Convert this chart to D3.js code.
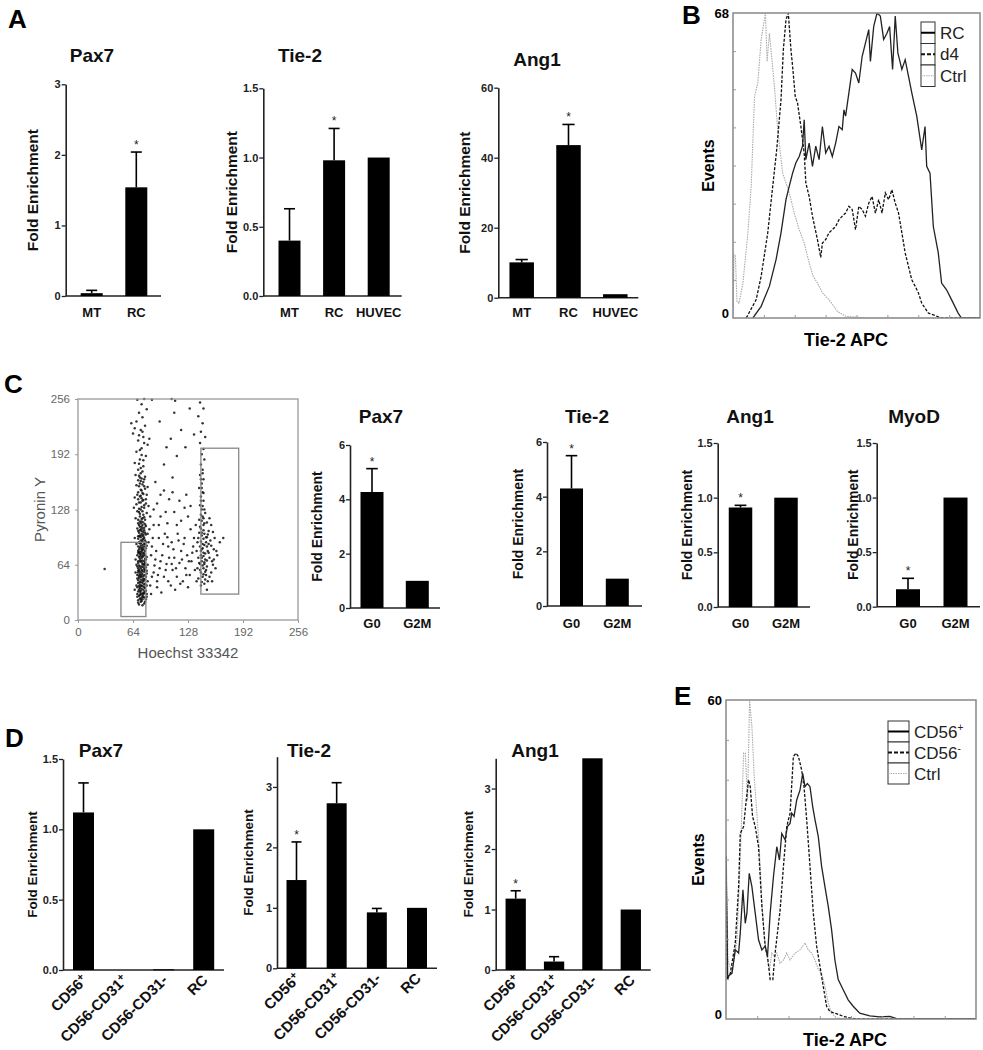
<!DOCTYPE html>
<html><head><meta charset="utf-8">
<script src="https://cdn.jsdelivr.net/npm/d3@7"></script>
<style>body{margin:0;background:#fff}svg{display:block}</style>
</head><body>
<svg id="fig" width="983" height="1050"></svg>
<script>
// ---------------- DATA ----------------
// Panel A
const aPax7Cats = ["MT", "RC"];
const aPax7Vals = [0.04, 1.54];
const aPax7Errs = [0.08, 2.04];
const aPax7Stars = [false, true];
const aPax7Ticks = [0, 1, 2, 3];

const aTie2Cats = ["MT", "RC", "HUVEC"];
const aTie2Vals = [0.40, 0.98, 1.0];
const aTie2Errs = [0.63, 1.21, null];
const aTie2Stars = [false, true, false];
const aTie2Ticks = [0, 0.5, 1.0, 1.5];

const aAng1Cats = ["MT", "RC", "HUVEC"];
const aAng1Vals = [10.1, 43.6, 1.0];
const aAng1Errs = [10.9, 49.5, null];
const aAng1Stars = [false, true, false];
const aAng1Ticks = [0, 20, 40, 60];

// Panel B histogram (channel, events)
const bRC = [[60,0],[85,2.6],[110,7.1],[130,13.0],[145,19.0],[160,26.4],[170,29.4],[180,32.3],[190,34.6],[200,36.0],[210,38.3],[215,44.2],[220,35.3],[230,39.0],[240,33.8],[250,38.3],[260,35.3],[270,42.7],[280,36.8],[290,38.3],[300,36.0],[310,39.0],[320,42.7],[330,42.0],[335,46.4],[340,45.0],[350,50.2],[360,55.4],[370,54.6],[380,52.4],[390,58.3],[400,61.3],[410,64.3],[415,57.2],[425,65.0],[435,68],[445,67.3],[455,62.1],[465,63.5],[473,65.0],[482,55.4],[490,67.3],[498,59.1],[510,55.4],[520,57.6],[530,53.9],[540,50.2],[555,45.0],[570,37.5],[580,42.7],[585,33.8],[595,32.3],[605,20.4],[620,14.5],[630,7.8],[645,6.3],[660,4.1],[680,1.1],[690,0],[746,0]];
const bD4 = [[40,0],[70,4.1],[85,9.3],[105,19.0],[120,29.4],[132,37.5],[145,48.7],[152,59.8],[160,66.5],[167,68],[175,59.8],[180,56.1],[188,49.4],[195,47.9],[205,42.7],[215,36.8],[220,30.1],[230,27.1],[240,22.7],[255,17.5],[265,13.5],[270,16.7],[280,17.5],[290,19.0],[300,19.7],[310,20.4],[320,21.9],[330,22.7],[340,23.4],[350,24.9],[360,24.2],[370,19.7],[380,24.9],[390,24.2],[400,22.7],[410,25.6],[420,27.1],[430,23.4],[440,26.4],[450,23.4],[460,27.9],[470,26.4],[480,28.6],[490,25.6],[500,23.4],[510,19.0],[520,14.5],[530,11.5],[540,8.5],[550,7.1],[560,5.6],[570,3.3],[590,1.1],[630,0],[746,0]];
const bCtrl = [[0,0],[3,14.1],[7,14.1],[12,3.7],[18,3.3],[30,7.8],[45,19.0],[55,29.4],[65,49.4],[75,52.4],[85,62.1],[98,68],[103,57.2],[110,63.5],[125,51.7],[135,42.0],[150,32.3],[170,27.9],[185,23.4],[200,19.7],[215,16.7],[230,12.3],[242,9.3],[255,7.8],[270,5.6],[290,4.1],[315,1.5],[340,0.4],[400,0],[746,0]];
const bMaxEvents = 68;
const bSeries = ["RC", "d4", "Ctrl"];

// Panel C scatter (Hoechst 33342, Pyronin Y)
const cScatter = [[70,20],[74,22],[77,19],[72,25],[76,27],[79,24],[69,30],[73,31],[75,28],[78,33],[71,35],[74,36],[77,38],[80,30],[68,40],[72,41],[75,43],[78,42],[70,46],[73,47],[76,48],[79,50],[69,52],[72,53],[74,55],[77,56],[80,54],[71,58],[73,60],[76,61],[78,63],[68,64],[70,66],[74,67],[77,68],[79,70],[72,71],[75,73],[69,75],[73,77],[76,78],[78,80],[71,82],[74,83],[77,85],[80,86],[68,88],[72,89],[75,91],[78,92],[70,94],[73,96],[76,97],[79,99],[71,101],[74,103],[77,104],[69,106],[72,108],[75,110],[73,21],[75,24],[71,28],[76,32],[72,37],[75,39],[73,44],[76,45],[74,50],[71,49],[75,57],[72,62],[75,65],[73,69],[76,74],[74,79],[72,84],[75,87],[73,92],[76,94],[74,98],[73,105],[70,60],[78,58],[70,80],[78,75],[67,70],[81,64],[67,55],[81,45],[66,35],[82,90],[81,100],[66,95],[74,26],[72,33],[77,47],[73,52],[70,57],[77,65],[74,72],[71,78],[78,88],[74,90],[71,97],[76,102],[74,108],[72,114],[76,30],[73,39],[75,53],[72,76],[75,81],
[71,18],[75,17],[78,21],[70,23],[73,24],[77,26],[80,27],[69,27],[72,29],[74,30],[77,31],[79,34],[70,33],[73,34],[76,35],[78,37],[69,38],[71,39],[74,40],[77,41],[80,40],[70,43],[72,44],[75,46],[78,47],[69,48],[71,51],[73,50],[76,51],[78,52],[80,57],[70,55],[72,56],[74,58],[77,59],[79,61],[69,62],[71,63],[74,62],[76,64],[78,66],[70,68],[72,68],[75,69],[78,71],[80,73],[71,73],[73,74],[75,76],[77,77],[70,78],[72,79],[74,81],[76,82],[79,83],[70,85],[73,86],[75,84],[77,88],[79,90],[71,90],[73,89],[75,93],[77,95],[70,97],[72,98],[74,100],[76,99],[78,101],[70,103],[72,104],[75,106],[77,107],[79,109],[71,110],[73,112],[76,113],[78,111],[70,116],[74,117],[77,119],[72,123],[75,126],[71,129],[74,131],[77,133],[73,136],[76,139],[70,140],[72,143],[75,147],[73,151],[71,155],[75,157],[73,161],[77,163],[71,167],[75,172],[73,176],[71,181],[76,185],[74,191],[72,197],[77,205],[71,214],[75,218],
[70,112],[74,114],[78,116],[67,118],[72,120],[76,122],[80,124],[69,126],[73,128],[77,130],[82,132],[68,134],[71,136],[75,138],[79,140],[66,142],[73,144],[76,146],[70,148],[74,150],[78,152],[81,154],[68,156],[72,158],[76,160],[70,162],[74,164],[78,166],[67,168],[73,170],[75,118],[71,125],[79,135],[74,141],[69,145],[77,155],[72,165],[80,145],[65,130],[84,120],
[70,174],[76,178],[66,182],[72,186],[79,190],[68,195],[74,199],[81,203],[70,208],[76,212],[64,216],[73,220],[78,225],[68,230],[75,235],[71,240],[80,244],[66,222],[74,250],[69,255],[77,256],[86,255],[62,228],[83,210],
[143,40],[147,42],[151,45],[140,48],[145,50],[149,52],[155,55],[142,58],[146,60],[150,62],[157,64],[141,66],[144,68],[148,70],[153,72],[143,75],[146,78],[151,80],[158,82],[142,85],[145,88],[149,90],[154,92],[140,95],[144,98],[147,100],[152,103],[143,106],[146,110],[150,113],[141,116],[145,120],[148,124],[144,128],[142,133],[146,138],[143,143],[145,148],[141,153],[144,158],[146,163],[142,168],[145,174],[143,180],[147,186],[144,192],[146,198],[142,205],[148,212],[143,218],[145,228],[140,236],[146,245],[142,252],[160,60],[162,75],[156,45],[139,60],[138,80],[159,95],[155,110],[150,35],[165,90],[148,56],[152,88],[147,65],[144,82],[150,96],
[144,44],[148,47],[146,53],[143,55],[149,58],[145,63],[142,65],[147,67],[150,69],[144,72],[146,74],[148,77],[143,80],[145,83],[150,85],[147,87],[143,91],[146,94],[149,96],[144,101],[146,104],[142,108],[147,112],[144,115],[146,118],[143,122],[147,128],[145,132],[143,138],[146,147],[144,153],[143,163],[145,170],[153,50],[156,68],[152,78],[155,86],[151,99],[157,102],[153,118],[140,72],[139,90],[141,101],[161,80],[158,70],
[84,40],[88,55],[90,70],[86,85],[92,45],[95,60],[98,75],[94,95],[100,50],[103,65],[105,85],[101,100],[108,40],[110,58],[112,72],[109,90],[115,50],[118,66],[120,80],[116,100],[122,45],[125,60],[127,75],[124,95],[130,52],[132,68],[134,85],[131,105],[136,58],[88,110],[96,120],[104,112],[112,125],[120,115],[128,120],[92,135],[106,140],[118,138],[126,145],[100,150],[85,30],[97,32],[113,35],[128,38],[90,160],[110,165],
[86,50],[89,63],[91,80],[87,95],[93,52],[96,68],[99,88],[102,58],[106,72],[104,96],[109,65],[111,82],[114,60],[117,92],[121,70],[123,88],[126,52],[129,68],[133,78],[135,95],[85,75],[94,110],[102,125],[115,110],[124,130],[110,148],[96,145],[131,132],[137,110],[83,105],[88,128],[138,45],[119,42],[105,45],[92,38],
[100,180],[115,190],[125,200],[108,210],[120,220],[135,215],[95,230],[112,240],[130,245],[103,200],[109,256],[113,254],[31,59],[169,95]];
const cAxisTicks = [0, 64, 128, 192, 256];
const cGateG0 = [50, 79, 4, 90];     // x0, x1, y0, y1
const cGateG2M = [143, 187, 30, 199];

// Panel C bars
const cCats = ["G0", "G2M"];
const cPax7Vals = [4.27, 1.0], cPax7Errs = [5.13, null];
const cTie2Vals = [4.30, 1.0], cTie2Errs = [5.50, null];
const cAng1Vals = [0.91, 1.0], cAng1Errs = [0.93, null];
const cMyoDVals = [0.16, 1.0], cMyoDErrs = [0.26, null];
const cStars = [true, false];
const cTicks6 = [0, 2, 4, 6];
const cTicks15 = [0, 0.5, 1.0, 1.5];

// Panel D bars
const dCats = ["CD56+", "CD56-CD31+", "CD56-CD31-", "RC"];
const dPax7Vals = [1.12, 0, 0.005, 1.0], dPax7Errs = [1.33, null, null, null], dPax7Stars = [false, false, false, false];
const dTie2Vals = [1.46, 2.73, 0.925, 1.0], dTie2Errs = [2.09, 3.07, 0.99, null], dTie2Stars = [true, false, false, false];
const dAng1Vals = [1.18, 0.14, 3.5, 1.0], dAng1Errs = [1.31, 0.22, null, null], dAng1Stars = [true, false, false, false];
const dPax7Ticks = [0, 0.5, 1.0, 1.5];
const dTicks3 = [0, 1, 2, 3];

// Panel E histogram
const eCD56p = [[0,30.6],[5,8.0],[18,8.6],[28,13.0],[38,12.4],[43,16.2],[51,24.3],[58,18.0],[63,19.9],[70,27.4],[78,24.9],[88,19.9],[98,14.9],[108,13.0],[118,13.7],[125,11.8],[133,19.9],[143,26.8],[153,32.4],[161,29.9],[168,34.9],[178,33.7],[185,36.2],[193,36.8],[198,38.7],[205,38.1],[213,41.2],[223,43.1],[231,46.2],[238,43.7],[245,44.3],[253,43.7],[261,40.0],[268,37.5],[278,34.3],[288,28.7],[298,24.9],[308,21.2],[318,16.8],[328,11.1],[338,7.4],[353,5.5],[368,3.6],[383,2.4],[403,1.1],[433,0.6],[463,0.4],[493,0.5],[518,0],[753,0]];
const eCD56m = [[0,28],[4,7.4],[13,8.6],[28,14.3],[38,24.9],[43,34.9],[53,36.2],[61,41.2],[68,45.0],[73,43.7],[80,38.1],[88,36.2],[98,32.4],[108,21.2],[118,13.7],[125,11.8],[133,7.4],[141,7.4],[148,12.4],[155,16.2],[163,20.5],[173,28.7],[183,36.2],[193,38.7],[203,49.4],[211,50.0],[218,49.4],[228,46.8],[235,43.7],[243,37.5],[253,28.7],[263,19.9],[273,13.7],[283,9.9],[293,6.1],[303,2.4],[313,1.4],[333,1.0],[353,0.5],[373,0.2],[393,0],[753,0]];
const eCtrl = [[0,34.9],[6,11.1],[18,8.6],[33,14.9],[43,29.9],[53,50.0],[58,50.0],[65,41.1],[71,60],[78,55.0],[85,45.6],[93,38.7],[101,31.2],[108,22.4],[115,15.5],[123,11.8],[131,9.3],[138,12.4],[145,11.8],[153,12.4],[163,10.5],[173,11.1],[183,12.4],[193,11.1],[208,12.4],[223,13.0],[238,14.3],[248,13.0],[258,12.4],[268,11.1],[278,9.3],[288,8.6],[298,6.1],[308,3.0],[318,1.1],[333,0.2],[353,0],[753,0]];
const eMaxEvents = 60;
const eSeries = ["CD56+", "CD56-", "Ctrl"];

// ---------------- DRAWING ----------------
const FONT = '"Liberation Sans", Arial, Helvetica, sans-serif';
const svg = d3.select("#fig").attr("font-family", FONT);

function addLabel(sel, label) {
  const m = label.match(/^(.*?)(\+)$/);
  if (m) {
    sel.append("tspan").text(m[1]);
    sel.append("tspan").attr("dy", -5).attr("font-size", "0.7em").text("+");
  } else sel.text(label);
}

function drawBar(c) {
  const g = svg.append("g");
  const y = d3.scaleLinear().domain([0, c.max]).range([c.y0, c.yTop]);
  const x = d3.scalePoint().domain(c.cats).range([c.c0, c.c1]);
  const ax = g.append("g").attr("transform", `translate(${c.ax},0)`)
    .call(d3.axisLeft(y).tickValues(c.ticks).tickFormat(c.fmt).tickSize(4).tickSizeOuter(0));
  ax.attr("font-family", FONT).attr("font-size", 11).attr("font-weight", "bold");
  ax.select(".domain").attr("stroke", "#222").attr("stroke-width", 1.6);
  ax.selectAll(".tick line").attr("stroke", "#222").attr("stroke-width", 1.3);
  ax.selectAll(".tick text").attr("fill", "#222").attr("x", -5);
  g.append("line").attr("x1", c.ax).attr("x2", c.xEnd).attr("y1", c.y0).attr("y2", c.y0)
    .attr("stroke", "#222").attr("stroke-width", 1.6);
  const data = c.cats.map((k, i) => ({k, v: c.vals[i], e: c.errs[i], s: c.stars[i]}));
  g.selectAll("rect.bar").data(data.filter(d => d.v > 0)).join("rect").attr("class", "bar")
    .attr("x", d => x(d.k) - c.bw / 2).attr("y", d => y(Math.min(d.v, c.max)))
    .attr("width", c.bw).attr("height", d => Math.max(1, c.y0 - y(Math.min(d.v, c.max))))
    .attr("fill", "#000");
  const ed = data.filter(d => d.e != null);
  g.selectAll("line.err").data(ed).join("line").attr("class", "err")
    .attr("x1", d => x(d.k)).attr("x2", d => x(d.k)).attr("y1", d => y(d.v)).attr("y2", d => y(d.e))
    .attr("stroke", "#000").attr("stroke-width", 1.6);
  g.selectAll("line.cap").data(ed).join("line").attr("class", "cap")
    .attr("x1", d => x(d.k) - c.bw / 4).attr("x2", d => x(d.k) + c.bw / 4)
    .attr("y1", d => y(d.e)).attr("y2", d => y(d.e))
    .attr("stroke", "#000").attr("stroke-width", 1.6);
  g.selectAll("text.star").data(data.filter(d => d.s)).join("text").attr("class", "star")
    .attr("x", d => x(d.k)).attr("y", d => y(d.e != null ? d.e : d.v) - 3)
    .attr("text-anchor", "middle").attr("font-size", 12).attr("fill", "#222").text("*");
  g.append("text").attr("x", c.tx).attr("y", c.ty).attr("text-anchor", "middle")
    .attr("font-size", 19).attr("font-weight", "bold").attr("fill", "#111").text(c.title);
  g.append("text").attr("transform", `translate(${c.lx},${(c.y0 + c.yTop) / 2}) rotate(-90)`)
    .attr("text-anchor", "middle").attr("dy", "0.35em").attr("font-size", c.lfs)
    .attr("font-weight", "bold").attr("fill", "#111").text("Fold Enrichment");
  if (c.rot) {
    c.cats.forEach(k => {
      const t = g.append("text").attr("transform", `translate(${x(k) + 5},${c.y0 + 11}) rotate(-45)`)
        .attr("text-anchor", "end").attr("font-size", 15).attr("font-weight", "bold").attr("fill", "#111");
      addLabel(t, k);
    });
  } else {
    g.selectAll("text.xl").data(c.cats).join("text").attr("class", "xl")
      .attr("x", d => x(d)).attr("y", c.xly).attr("text-anchor", "middle")
      .attr("font-size", 13).attr("font-weight", "bold").attr("fill", "#111").text(d => d);
  }
}

const f0 = d3.format("d"), f1 = d3.format(".1f");
// Panel A
drawBar({cats: aPax7Cats, vals: aPax7Vals, errs: aPax7Errs, stars: aPax7Stars, ticks: aPax7Ticks, fmt: f0, max: 3,
  ax: 65.7, xEnd: 161, y0: 296, yTop: 84.3, c0: 91.7, c1: 136.3, bw: 22, title: "Pax7", tx: 92, ty: 62, lx: 33, lfs: 15.5, xly: 317});
drawBar({cats: aTie2Cats, vals: aTie2Vals, errs: aTie2Errs, stars: aTie2Stars, ticks: aTie2Ticks, fmt: f1, max: 1.5,
  ax: 263.3, xEnd: 401.7, y0: 296, yTop: 88.3, c0: 289.5, c1: 378.7, bw: 22, title: "Tie-2", tx: 300, ty: 62, lx: 231.7, lfs: 15.5, xly: 317});
drawBar({cats: aAng1Cats, vals: aAng1Vals, errs: aAng1Errs, stars: aAng1Stars, ticks: aAng1Ticks, fmt: f0, max: 60,
  ax: 498.3, xEnd: 638.3, y0: 297.7, yTop: 87.7, c0: 521.7, c1: 615.3, bw: 24.5, title: "Ang1", tx: 537, ty: 66, lx: 465, lfs: 15.5, xly: 317});
// Panel C bars
drawBar({cats: cCats, vals: cPax7Vals, errs: cPax7Errs, stars: cStars, ticks: cTicks6, fmt: f0, max: 6,
  ax: 350, xEnd: 440, y0: 608, yTop: 445, c0: 372, c1: 417.3, bw: 23, title: "Pax7", tx: 381, ty: 423, lx: 317, lfs: 14, xly: 628});
drawBar({cats: cCats, vals: cTie2Vals, errs: cTie2Errs, stars: cStars, ticks: cTicks6, fmt: f0, max: 6,
  ax: 547, xEnd: 642, y0: 606, yTop: 442, c0: 571.5, c1: 617.3, bw: 23, title: "Tie-2", tx: 587, ty: 423, lx: 518, lfs: 14, xly: 628});
drawBar({cats: cCats, vals: cAng1Vals, errs: cAng1Errs, stars: cStars, ticks: cTicks15, fmt: f1, max: 1.5,
  ax: 717.7, xEnd: 810, y0: 607, yTop: 443, c0: 740.5, c1: 786, bw: 23.5, title: "Ang1", tx: 750, ty: 423, lx: 687, lfs: 14, xly: 628});
drawBar({cats: cCats, vals: cMyoDVals, errs: cMyoDErrs, stars: cStars, ticks: cTicks15, fmt: f1, max: 1.5,
  ax: 876.7, xEnd: 980, y0: 606.7, yTop: 443, c0: 908, c1: 955.5, bw: 24, title: "MyoD", tx: 914, ty: 423, lx: 853, lfs: 14, xly: 628});
// Panel D bars
drawBar({cats: dCats, vals: dPax7Vals, errs: dPax7Errs, stars: dPax7Stars, ticks: dPax7Ticks, fmt: f1, max: 1.5,
  ax: 63, xEnd: 224, y0: 970, yTop: 759, c0: 83.5, c1: 203.7, bw: 21, title: "Pax7", tx: 101, ty: 757, lx: 32, lfs: 13.5, rot: true});
drawBar({cats: dCats, vals: dTie2Vals, errs: dTie2Errs, stars: dTie2Stars, ticks: dTicks3, fmt: f0, max: 3.5,
  ax: 277, xEnd: 437, y0: 968.3, yTop: 756.7, c0: 296.5, c1: 417, bw: 20, title: "Tie-2", tx: 309, ty: 757, lx: 248, lfs: 13.5, rot: true});
drawBar({cats: dCats, vals: dAng1Vals, errs: dAng1Errs, stars: dAng1Stars, ticks: dTicks3, fmt: f0, max: 3.5,
  ax: 495.7, xEnd: 650.7, y0: 970, yTop: 758.3, c0: 515.7, c1: 630.8, bw: 20.3, title: "Ang1", tx: 535, ty: 757, lx: 468, lfs: 13.5, rot: true});

// Panel C scatter
(function () {
  const L = 78, R = 298, T = 399, B = 620;
  const x = d3.scaleLinear().domain([0, 256]).range([L, R]);
  const y = d3.scaleLinear().domain([0, 256]).range([B, T]);
  const g = svg.append("g");
  g.selectAll("circle").data(cScatter).join("circle")
    .attr("cx", d => x(d[0])).attr("cy", d => y(d[1])).attr("r", 1.25).attr("fill", "#111").attr("opacity", 0.85);
  g.append("rect").attr("x", L).attr("y", T).attr("width", R - L).attr("height", B - T)
    .attr("fill", "none").attr("stroke", "#999").attr("stroke-width", 1.3);
  [cGateG0, cGateG2M].forEach(q => {
    g.append("rect").attr("x", x(q[0])).attr("y", y(q[3])).attr("width", x(q[1]) - x(q[0])).attr("height", y(q[2]) - y(q[3]))
      .attr("fill", "none").attr("stroke", "#888").attr("stroke-width", 1.3);
  });
  const ax = g.append("g").attr("transform", `translate(0,${B})`)
    .call(d3.axisBottom(x).tickValues(cAxisTicks).tickSize(3).tickSizeOuter(0));
  const ay = g.append("g").attr("transform", `translate(${L},0)`)
    .call(d3.axisLeft(y).tickValues(cAxisTicks).tickSize(3).tickSizeOuter(0));
  [ax, ay].forEach(a => {
    a.attr("font-family", FONT).attr("font-size", 11.5);
    a.select(".domain").remove();
    a.selectAll(".tick line").attr("stroke", "#999");
    a.selectAll(".tick text").attr("fill", "#666");
  });
  ax.selectAll(".tick text").attr("y", 8);
  ay.selectAll(".tick text").attr("x", -8);
  g.append("text").attr("x", (L + R) / 2).attr("y", 658).attr("text-anchor", "middle")
    .attr("font-size", 15).attr("fill", "#555").text("Hoechst 33342");
  g.append("text").attr("transform", `translate(40,${(T + B) / 2}) rotate(-90)`).attr("dy", "0.35em")
    .attr("text-anchor", "middle").attr("font-size", 15).attr("fill", "#555").text("Pyronin Y");
})();

// Histograms
function drawHist(h) {
  const g = svg.append("g");
  const x = d3.scaleLinear().domain([0, h.xMax]).range([h.L, h.R]);
  const y = d3.scaleLinear().domain([0, h.yMax]).range([h.B, h.T]);
  const id = "clip" + h.L;
  g.append("clipPath").attr("id", id).append("rect").attr("x", h.L).attr("y", h.T).attr("width", h.R - h.L).attr("height", h.B - h.T);
  const line = d3.line().x(d => x(d[0])).y(d => y(d[1]));
  const styles = [
    {stroke: "#aaa", w: 1.1, dash: "1.5,1"},
    {stroke: "#111", w: 1.3, dash: "3,1.6"},
    {stroke: "#222", w: 1.3, dash: null}
  ];
  [h.s3, h.s2, h.s1].forEach((s, i) => {
    g.append("path").datum(s).attr("d", line).attr("fill", "none").attr("clip-path", `url(#${id})`)
      .attr("stroke", styles[i].stroke).attr("stroke-width", styles[i].w)
      .attr("stroke-dasharray", styles[i].dash);
  });
  g.append("rect").attr("x", h.L).attr("y", h.T).attr("width", h.R - h.L).attr("height", h.B - h.T)
    .attr("fill", "none").attr("stroke", "#888").attr("stroke-width", 1.5);
  const xt = d3.range(1, 8).map(i => i * h.xMax / 8);
  const yt = d3.range(1, 8).map(i => i * h.yMax / 8);
  g.append("g").attr("transform", `translate(0,${h.B})`).call(d3.axisTop(x).tickValues(xt).tickSize(3).tickFormat(""))
    .call(a => { a.select(".domain").remove(); a.selectAll("line").attr("stroke", "#999"); });
  g.append("g").attr("transform", `translate(${h.L},0)`).call(d3.axisRight(y).tickValues(yt).tickSize(3).tickFormat(""))
    .call(a => { a.select(".domain").remove(); a.selectAll("line").attr("stroke", "#999"); });
  g.append("text").attr("x", h.L - 4).attr("y", h.T + 5).attr("text-anchor", "end").attr("font-size", 13)
    .attr("font-weight", "bold").text(h.yMax);
  g.append("text").attr("x", h.L - 4).attr("y", h.B).attr("text-anchor", "end").attr("font-size", 13)
    .attr("font-weight", "bold").text(0);
  g.append("text").attr("transform", `translate(${h.evX},${(h.T + h.B) / 2}) rotate(-90)`).attr("dy", "0.35em")
    .attr("text-anchor", "middle").attr("font-size", 16).attr("font-weight", "bold").text("Events");
  g.append("text").attr("x", h.apcX).attr("y", h.apcY).attr("text-anchor", "middle").attr("font-size", 18)
    .attr("font-weight", "bold").text("Tie-2 APC");
  // legend
  h.names.forEach((n, i) => {
    const yy = h.lgY + i * h.lgH;
    g.append("rect").attr("x", h.lgX).attr("y", yy).attr("width", h.lgW).attr("height", h.lgH)
      .attr("fill", "#fff").attr("stroke", "#333").attr("stroke-width", 1);
    const st = styles[2 - i];
    g.append("line").attr("x1", h.lgX).attr("x2", h.lgX + h.lgW).attr("y1", yy + h.lgH / 2).attr("y2", yy + h.lgH / 2)
      .attr("stroke", i === 0 ? "#000" : st.stroke).attr("stroke-width", i === 2 ? 1 : 2)
      .attr("stroke-dasharray", i === 1 ? "4,2" : (i === 2 ? "1.5,1" : null));
    const t = g.append("text").attr("x", h.lgX + h.lgW + 5).attr("y", yy + h.lgH / 2 + 6)
      .attr("font-size", 17).attr("fill", "#222");
    const m = n.match(/^(CD56)([+-])$/);
    if (m) {
      t.append("tspan").text(m[1]);
      t.append("tspan").attr("dy", -7).attr("font-size", 10).text(m[2]);
    } else t.text(n);
  });
}

drawHist({L: 733, R: 980, T: 13, B: 318, xMax: 746, yMax: bMaxEvents, s1: bRC, s2: bD4, s3: bCtrl,
  evX: 708, apcX: 846, apcY: 346, names: bSeries, lgX: 921, lgY: 22, lgW: 14, lgH: 21.5});
drawHist({L: 726, R: 976, T: 700, B: 1019, xMax: 753, yMax: eMaxEvents, s1: eCD56p, s2: eCD56m, s3: eCtrl,
  evX: 698, apcX: 845, apcY: 1046, names: eSeries, lgX: 888, lgY: 721, lgW: 21, lgH: 21});

// Panel letters
[["A", 8, 28], ["B", 682, 24], ["C", 4, 393], ["D", 5, 747], ["E", 674, 705]].forEach(p => {
  svg.append("text").attr("x", p[1]).attr("y", p[2]).attr("font-size", 26).attr("font-weight", "bold")
    .attr("fill", "#000").text(p[0]);
});
</script>
</body></html>
